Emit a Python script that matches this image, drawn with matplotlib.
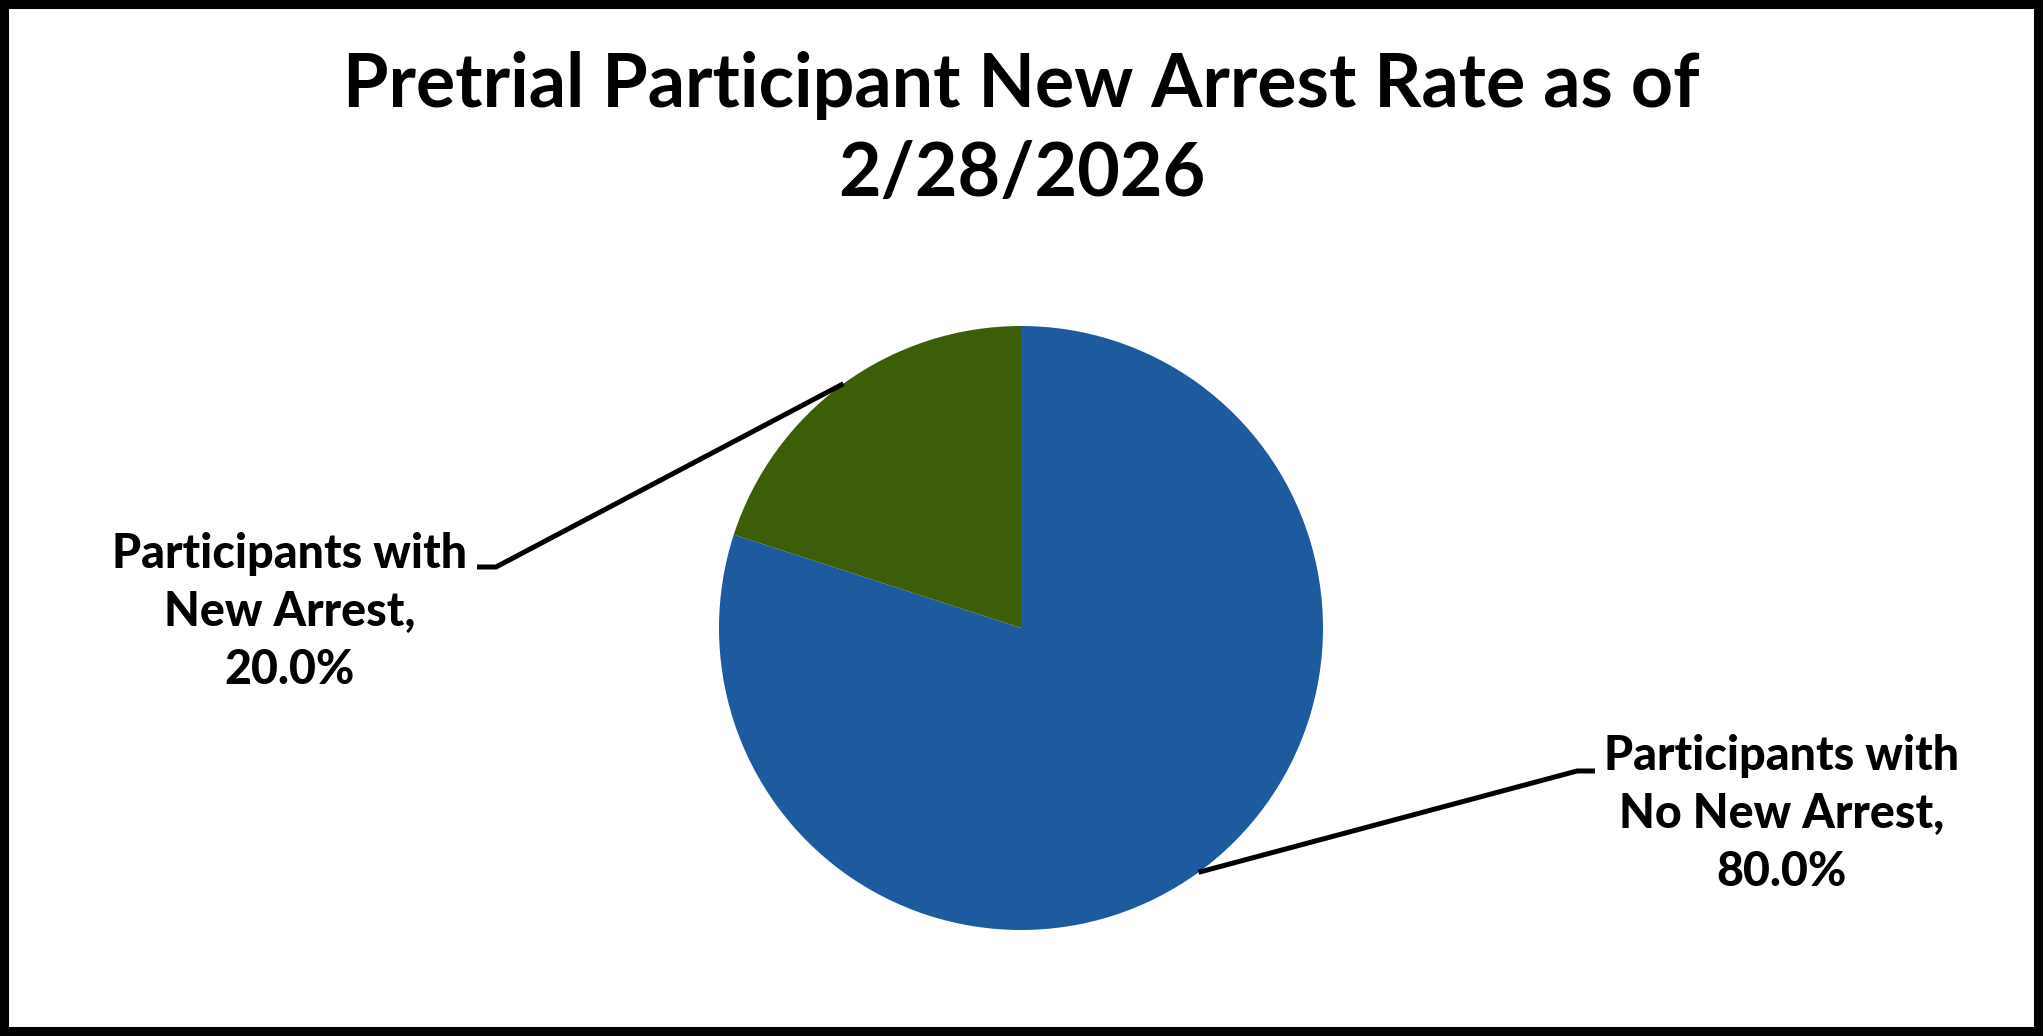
import numpy as np
import matplotlib
matplotlib.use("Agg")
import matplotlib.pyplot as plt

# chart data
categories = ["Participants with\nNo New Arrest,", "Participants with\nNew Arrest,"]
shares = [80.0, 20.0]
colors = ["#1D5A9E", "#3C5E08"]
title = "Pretrial Participant New Arrest Rate as of\n2/28/2026"

W, H = 2043, 1036
plt.rcParams["font.family"] = ["Lato", "DejaVu Sans"]

fig = plt.figure(figsize=(W / 100, H / 100), dpi=100)
ax = fig.add_axes([0, 0, 1, 1])

# pie, in pixel units (y up)
cx, cy, r = 1021, H - 628, 302
wedges, _ = ax.pie(shares, colors=colors, startangle=90, counterclock=False,
                   center=(cx, cy), radius=r, frame=True,
                   wedgeprops=dict(linewidth=0))
ax.set_xlim(0, W)
ax.set_ylim(0, H)
ax.set_aspect("equal")
ax.axis("off")

# label block centers (middle line) and leader elbows
label_pos = [(1782, H - 814), (290, H - 612)]
elbows = [((1577, H - 771), (1595, H - 771)), ((496, H - 567), (477, H - 567))]

for w, cat, val, (lx, ly), (e1, e2) in zip(wedges, categories, shares, label_pos, elbows):
    mid = np.deg2rad((w.theta1 + w.theta2) / 2)
    x0 = cx + r * np.cos(mid)
    y0 = cy + r * np.sin(mid)
    ax.plot([x0, e1[0], e2[0]], [y0, e1[1], e2[1]], color="black", lw=3.6,
            solid_capstyle="butt", solid_joinstyle="miter")
    ax.text(lx, ly, f"{cat}\n{val:.1f}%", ha="center", va="center", fontsize=33.5,
            fontweight=900, linespacing=1.4, multialignment="center")

fig.text(0.5, 1 - 130 / H, title, ha="center", va="center", fontsize=53,
         fontweight="bold", linespacing=1.35)

# outer frame
fig.patches.append(plt.Rectangle((0, 0), 1, 1, transform=fig.transFigure,
                                 fill=False, edgecolor="black", linewidth=13))

fig.savefig("out.png", dpi=100)
